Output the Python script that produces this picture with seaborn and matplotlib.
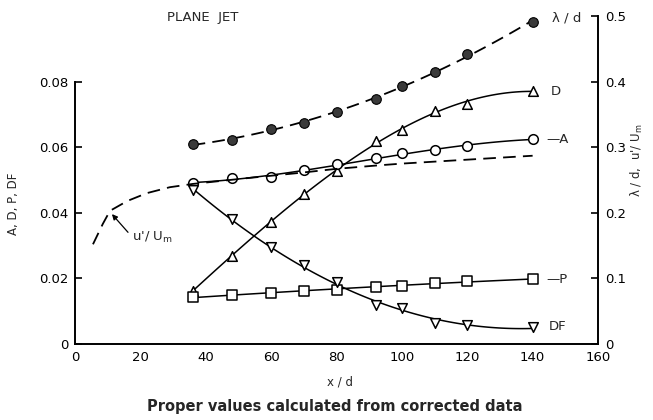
import numpy as np
import pandas as pd
import matplotlib
matplotlib.use("Agg")
import matplotlib.pyplot as plt
import seaborn as sns

# ---- data ----
x_d = [36, 48, 60, 70, 80, 92, 100, 110, 120, 140]
lam_d = [0.305, 0.311, 0.328, 0.337, 0.354, 0.373, 0.393, 0.415, 0.442, 0.491]
D = [0.0163, 0.0268, 0.0372, 0.0458, 0.0526, 0.0619, 0.0652, 0.0711, 0.0733, 0.0772]
A = [0.0492, 0.0505, 0.0508, 0.0529, 0.0548, 0.0566, 0.0582, 0.0591, 0.0603, 0.0625]
P = [0.0142, 0.0148, 0.0157, 0.0163, 0.0166, 0.0175, 0.0178, 0.0185, 0.0191, 0.0197]
DF = [0.0468, 0.0382, 0.0295, 0.0240, 0.0188, 0.0120, 0.0111, 0.0065, 0.0058, 0.0052]

u_x = [5.5, 8.5, 10.7, 16, 22, 29, 36, 53, 69, 80, 92, 100, 120, 140]
u_um = [0.152, 0.183, 0.203, 0.218, 0.230, 0.239, 0.244, 0.253, 0.261, 0.267,
        0.272, 0.275, 0.281, 0.287]

x_ticks = [0, 20, 40, 60, 80, 100, 120, 140, 160]
left_ticks = [0, 0.02, 0.04, 0.06, 0.08]
left_labels = ["0", "0.02", "0.04", "0.06", "0.08"]
right_ticks = [0, 0.1, 0.2, 0.3, 0.4, 0.5]
right_labels = ["0", "0.1", "0.2", "0.3", "0.4", "0.5"]

sns.set_style("white")
plt.rcParams['font.family'] = ['DejaVu Sans']

fig = plt.figure(figsize=(6.53, 4.20), dpi=100)
ax = fig.add_axes([75 / 653, 76 / 420, (598 - 75) / 653, (344 - 16) / 420])
ax2 = ax.twinx()

ax.set_xlim(0, 160)
ax.set_ylim(0, 0.1)
ax2.set_ylim(0, 0.5)

df = pd.DataFrame({"x": x_d, "lam": lam_d, "D": D, "A": A, "P": P, "DF": DF})
dfu = pd.DataFrame({"x": u_x, "u": u_um})

lw = 1.1
# smooth fitted curves through left-axis series
orders = {"D": 3, "A": 3, "P": 2, "DF": 2}
for col, o in orders.items():
    sns.regplot(data=df, x="x", y=col, order=o, ci=None, scatter=False, ax=ax,
                truncate=True, line_kws=dict(color="black", lw=lw, zorder=2))

markers = {"D": "^", "A": "o", "P": "s", "DF": "v"}
for col, m in markers.items():
    sns.scatterplot(data=df, x="x", y=col, marker=m, s=48, facecolor="white",
                    edgecolor="black", linewidth=1.1, ax=ax, zorder=4)

# right-axis series
sns.regplot(data=df, x="x", y="lam", order=2, ci=None, scatter=False, ax=ax2,
            truncate=True, line_kws=dict(color="black", lw=1.3, ls=(0, (7, 4)), zorder=2))
sns.scatterplot(data=df, x="x", y="lam", marker="o", s=48, color="#3a3a3a",
                edgecolor="black", linewidth=0.8, ax=ax2, zorder=4)
sns.lineplot(data=dfu, x="x", y="u", color="black", lw=1.3, ax=ax2,
             linestyle=(0, (7, 4)), zorder=2)

# axes styling
for a in (ax, ax2):
    a.set_xlabel("")
    a.set_ylabel("")
ax.set_xticks(x_ticks)
ax.set_xticklabels([str(t) for t in x_ticks], fontsize=9.5)
ax.set_yticks(left_ticks)
ax.set_yticklabels(left_labels, fontsize=9.5)
ax2.set_yticks(right_ticks)
ax2.set_yticklabels(right_labels, fontsize=9.5)
ax.tick_params(direction="in", length=5, width=1.2, pad=5, colors="black")
ax2.tick_params(direction="in", length=5, width=1.2, pad=5, colors="black")
ax.spines["top"].set_visible(False)
ax.spines["right"].set_visible(False)
ax.spines["left"].set_bounds(0, 0.08)
ax2.spines["top"].set_visible(False)
ax2.spines["left"].set_visible(False)
ax2.spines["bottom"].set_visible(False)
for s in ["left", "bottom"]:
    ax.spines[s].set_linewidth(1.4)
    ax.spines[s].set_color("black")
ax2.spines["right"].set_linewidth(1.4)
ax2.spines["right"].set_color("black")
ax.grid(False)
ax2.grid(False)

# series labels
ax.text(146, 0.0995, "λ / d", fontsize=9.5, va="center", ha="left")
ax.text(145.5, 0.0769, "D", fontsize=9.5, va="center", ha="left")
ax.text(144.3, 0.0622, "—A", fontsize=9.5, va="center", ha="left")
ax.text(144.3, 0.0197, "—P", fontsize=9.5, va="center", ha="left")
ax.text(144.8, 0.0052, "DF", fontsize=9.5, va="center", ha="left")

ax2.annotate("u'/ U$_\\mathregular{m}$", xy=(11.3, 0.198), xytext=(17.5, 0.163),
             fontsize=9.5, va="center", ha="left",
             arrowprops=dict(arrowstyle="-|>", color="black", lw=0.9,
                             shrinkA=1, shrinkB=0, mutation_scale=8,
                             relpos=(0, 0.5), connectionstyle="arc3"))

fig.text(203 / 653, 1 - 17 / 420, "PLANE  JET", fontsize=9.5, ha="center", va="center")
fig.text(14 / 653, 1 - 204 / 420, "A, D, P, DF", fontsize=8.5, rotation=90,
         ha="center", va="center")
fig.text(637 / 653, 1 - 160 / 420, "λ / d,  u'/ U$_\\mathregular{m}$", fontsize=8.5,
         rotation=90, ha="center", va="center")
fig.text(340 / 653, 1 - 382 / 420, "x / d", fontsize=8.5, ha="center", va="center")
fig.text(335 / 653, 1 - 407 / 420, "Proper values calculated from corrected data",
         fontsize=10.5, fontweight="bold", ha="center", va="center")

fig.savefig("out.png", dpi=100)
